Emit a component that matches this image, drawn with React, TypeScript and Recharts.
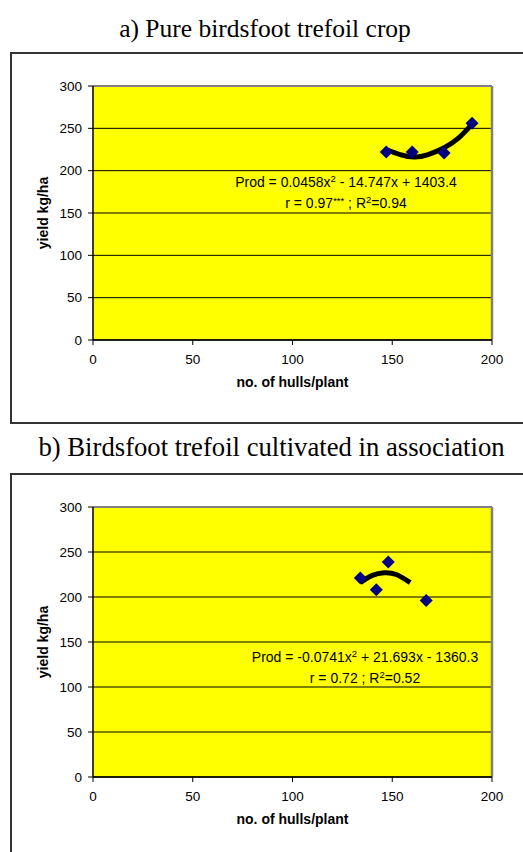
import React from "react";
import { ComposedChart, Scatter, Line, XAxis, YAxis, CartesianGrid, ReferenceLine, Label } from "recharts";

const xTicks = [0, 50, 100, 150, 200];
const yTicks = [0, 50, 100, 150, 200, 250, 300];

const hullsA = [147, 160, 176, 190];
const yieldA = [222, 222, 221, 256];
const trendHullsA = [147, 154, 161, 168, 176, 183, 190];
const trendYieldA = [225, 219, 216, 219, 227, 238, 255];

const hullsB = [134, 142, 148, 167];
const yieldB = [221, 208, 239, 196];
const trendHullsB = [134, 140, 146, 152, 159];
const trendYieldB = [216, 224, 227, 225, 216];

const titleA = "a) Pure birdsfoot trefoil crop";
const titleB = "b) Birdsfoot trefoil cultivated in association";
const xLabel = "no. of hulls/plant";
const yLabel = "yield kg/ha";

const toRows = (xs: number[], ys: number[]) => xs.map((x, i) => ({ x, y: ys[i] }));

const SANS = "'Liberation Sans', Arial, sans-serif";
const SERIF = "'Liberation Serif', 'Times New Roman', serif";

const Diamond = (props: any) => {
  const { cx, cy } = props;
  const r = 6.5;
  return (
    <polygon
      points={`${cx},${cy - r} ${cx + r},${cy} ${cx},${cy + r} ${cx - r},${cy}`}
      fill="#000080"
    />
  );
};

type PanelProps = {
  top: number;
  height: number;
  plotTop: number;
  plotBottom: number;
  points: { x: number; y: number }[];
  trend: { x: number; y: number }[];
};

const Panel = ({ top, height, plotTop, plotBottom, points, trend }: PanelProps) => {
  const xAxisH = 50;
  const midY = (plotTop + plotBottom) / 2;
  return (
    <div style={{ position: "absolute", left: 0, top, width: 523, height }}>
      <ComposedChart
        width={523}
        height={height}
        margin={{ top: plotTop, right: 31, left: 33, bottom: height - plotBottom - xAxisH }}
      >
        <CartesianGrid horizontal vertical={false} stroke="#000" strokeWidth={1} fill="#FFFF00" />
        <XAxis
          dataKey="x"
          type="number"
          domain={[0, 200]}
          ticks={xTicks}
          height={xAxisH}
          tickSize={5}
          tickMargin={9}
          axisLine={{ stroke: "#000", strokeWidth: 1.5 }}
          tickLine={{ stroke: "#000" }}
          tick={{ fill: "#000", fontSize: 13.5, fontFamily: SANS }}
          interval={0}
        >
          <Label
            content={() => (
              <text
                x={292.5}
                y={plotBottom + 47}
                textAnchor="middle"
                fontFamily={SANS}
                fontWeight="bold"
                fontSize={14}
                fill="#000"
              >
                {xLabel}
              </text>
            )}
          />
        </XAxis>
        <YAxis
          dataKey="y"
          type="number"
          domain={[0, 300]}
          ticks={yTicks}
          width={60}
          tickSize={5}
          tickMargin={6}
          axisLine={{ stroke: "#000", strokeWidth: 1.5 }}
          tickLine={{ stroke: "#000" }}
          tick={{ fill: "#000", fontSize: 13.5, fontFamily: SANS }}
          interval={0}
        >
          <Label
            content={() => (
              <text
                x={43}
                y={midY}
                transform={`rotate(-90, 43, ${midY})`}
                textAnchor="middle"
                dominantBaseline="central"
                fontFamily={SANS}
                fontWeight="bold"
                fontSize={14}
                fill="#000"
              >
                {yLabel}
              </text>
            )}
          />
        </YAxis>
        <ReferenceLine y={300} stroke="#808080" strokeWidth={2} />
        <ReferenceLine x={200} stroke="#808080" strokeWidth={2.5} />
        <Scatter data={points} dataKey="y" shape={<Diamond />} isAnimationActive={false} />
        <Line
          data={trend}
          dataKey="y"
          type="natural"
          stroke="#000"
          strokeWidth={5}
          dot={false}
          activeDot={false}
          isAnimationActive={false}
        />
      </ComposedChart>
    </div>
  );
};

export default function App() {
  return (
    <div style={{ position: "absolute", left: 0, top: 0, width: 523, height: 852, overflow: "hidden", background: "#fff" }}>
      <div style={{ position: "absolute", left: 10, top: 52, width: 540, height: 368, border: "2px solid #333" }} />
      <div style={{ position: "absolute", left: 10, top: 473, width: 540, height: 420, border: "2px solid #333" }} />

      <Panel top={0} height={430} plotTop={86} plotBottom={340} points={toRows(hullsA, yieldA)} trend={toRows(trendHullsA, trendYieldA)} />
      <Panel top={430} height={422} plotTop={77} plotBottom={347} points={toRows(hullsB, yieldB)} trend={toRows(trendHullsB, trendYieldB)} />

      <svg width={523} height={852} style={{ position: "absolute", left: 0, top: 0, pointerEvents: "none" }}>
        <text x={265} y={37} textAnchor="middle" fontFamily={SERIF} fontSize={25.5} fill="#000">
          {titleA}
        </text>
        <text x={271.5} y={456} textAnchor="middle" fontFamily={SERIF} fontSize={26.7} fill="#000">
          {titleB}
        </text>

        <g fontFamily={SANS} fontSize={14} fill="#000" textAnchor="middle">
          <text x={346} y={187}>
            Prod = 0.0458x<tspan dy={-5} fontSize={9.5}>2</tspan>
            <tspan dy={5}> - 14.747x + 1403.4</tspan>
          </text>
          <text x={346} y={208}>
            r = 0.97<tspan dy={-4} fontSize={9.5}>***</tspan>
            <tspan dy={4}> ; R</tspan>
            <tspan dy={-5} fontSize={9.5}>2</tspan>
            <tspan dy={5}>=0.94</tspan>
          </text>

          <text x={365} y={662}>
            Prod = -0.0741x<tspan dy={-5} fontSize={9.5}>2</tspan>
            <tspan dy={5}> + 21.693x - 1360.3</tspan>
          </text>
          <text x={365} y={683}>
            r = 0.72 ; R<tspan dy={-5} fontSize={9.5}>2</tspan>
            <tspan dy={5}>=0.52</tspan>
          </text>
        </g>
      </svg>
    </div>
  );
}
